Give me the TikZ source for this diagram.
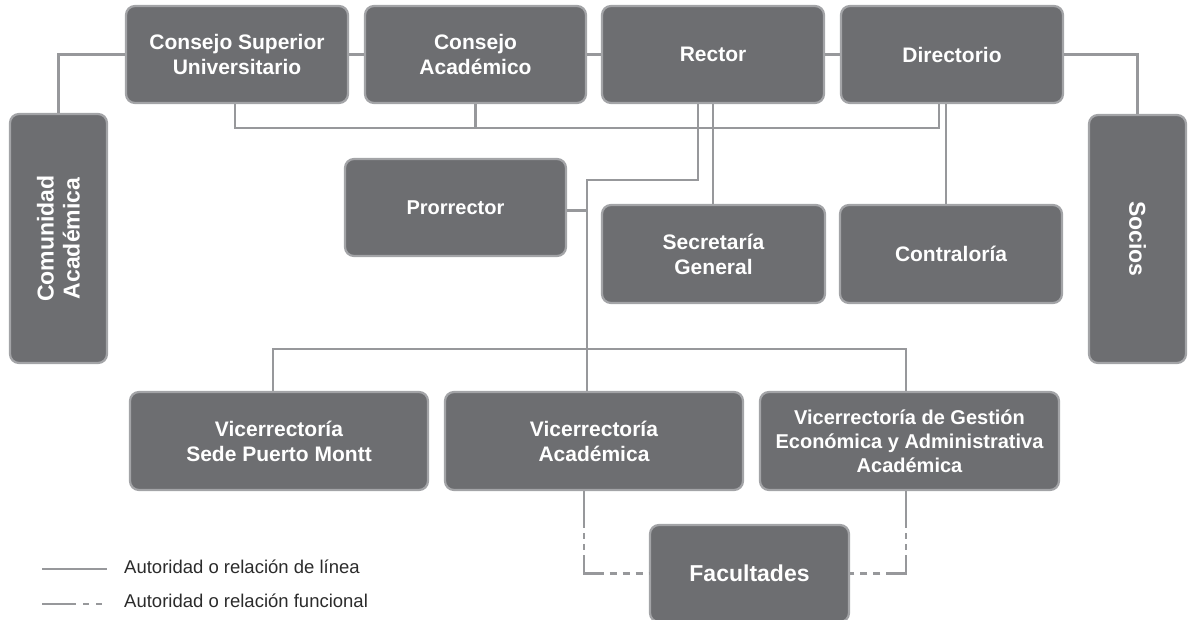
\documentclass[tikz,border=0pt]{standalone}
\usepackage{fontspec}
\setmainfont{Liberation Sans}
\begin{document}
\begin{tikzpicture}[x=1pt,y=-1pt,
  orgbox/.style={draw=boxedge,line width=2.2pt,fill=boxfill,rounded corners=9pt,
    inner sep=0pt,text=white,align=center,font=\bfseries\fontsize{21}{25}\selectfont},
  conn/.style={draw=linegray,line width=2.5pt},
  func/.style={conn,dash pattern=on 37pt off 5pt on 6pt off 5pt on 6pt off 5pt on 38pt off 6pt on 7pt off 6pt on 7pt off 6pt on 7pt off 6pt on 7pt off 6pt},
  legtext/.style={anchor=west,inner sep=0pt,text=legtxt,font=\fontsize{18.5}{21}\selectfont}]
\definecolor{boxfill}{HTML}{6D6E71}
\definecolor{boxedge}{HTML}{A3A4A7}
\definecolor{linegray}{HTML}{97989B}
\definecolor{legtxt}{HTML}{2B2B2B}
\useasboundingbox (0,0) rectangle (1188,620);
\coordinate (j1) at (587,180);
\coordinate (b2) at (587,349);
% nodes
\node[orgbox,minimum width=222pt,minimum height=97pt] (csu) at (237,54.5) {Consejo Superior\\Universitario};
\node[orgbox,minimum width=221pt,minimum height=97pt] (ca) at (475.5,54.5) {Consejo\\Académico};
\node[orgbox,minimum width=222pt,minimum height=97pt] (rector) at (713,54.5) {Rector};
\node[orgbox,minimum width=222pt,minimum height=97pt] (dir) at (952,54.5) {Directorio};
\node[orgbox,minimum width=97pt,minimum height=249pt] (com) at (58.5,238.5) {};
\node[rotate=90,text=white,align=center,font=\bfseries\fontsize{23}{26}\selectfont] (comtxt) at (com.center) {Comunidad\\Académica};
\node[orgbox,minimum width=97pt,minimum height=248pt] (soc) at (1137.5,239) {};
\node[rotate=-90,text=white,font=\bfseries\fontsize{23}{26}\selectfont] (soctxt) at (soc.center) {Socios};
\node[orgbox,minimum width=221pt,minimum height=97pt,font=\bfseries\fontsize{20}{24}\selectfont] (pro) at (455.5,207.5) {Prorrector};
\node[orgbox,minimum width=223pt,minimum height=98pt] (sec) at (713.5,254) {Secretaría\\General};
\node[orgbox,minimum width=222pt,minimum height=98pt] (con) at (951,254) {Contraloría};
\node[orgbox,minimum width=298pt,minimum height=98pt] (vspm) at (279,441) {Vicerrectoría\\Sede Puerto Montt};
\node[orgbox,minimum width=298pt,minimum height=98pt] (va) at (594,441) {Vicerrectoría\\Académica};
\node[orgbox,minimum width=299pt,minimum height=98pt,font=\bfseries\fontsize{20}{24}\selectfont] (vgea) at (909.5,441) {Vicerrectoría de Gestión\\Económica y Administrativa\\Académica};
\node[orgbox,minimum width=199pt,minimum height=97pt,font=\bfseries\fontsize{23}{26}\selectfont] (fac) at (749.5,573.5) {Facultades};
% connectors
\draw[conn] (com.north) |- (csu.west);
\draw[conn] (csu.east) -- (ca.west);
\draw[conn] (ca.east) -- (rector.west);
\draw[conn] (rector.east) -- (dir.west);
\draw[conn] (dir.east) -| (soc.north);
\draw[conn] ([xshift=-2pt]csu.south) |- ([xshift=-13pt]dir.south |- 0,128) -- ([xshift=-13pt]dir.south);
\draw[conn] (ca.south) -- (ca.south |- 0,128);
\draw[conn] ([xshift=-15pt]rector.south) |- (j1) -- (j1 |- va.north);
\draw[conn] ([yshift=-3pt]pro.east) -- ([yshift=-3pt]pro.east -| j1);
\draw[conn] (rector.south) -- (rector.south |- sec.north);
\draw[conn] ([xshift=-6pt]dir.south) -- ([xshift=-6pt]dir.south |- con.north);
\draw[conn] ([xshift=-6pt]vspm.north) |- (b2) -| ([xshift=-3.5pt]vgea.north);
\draw[func] ([xshift=-10pt]va.south) |- (fac.west);
\draw[func] ([xshift=-3.5pt]vgea.south) |- (fac.east);
% legend
\coordinate (la1) at (42,569);
\coordinate (la2) at (107,569);
\coordinate (lb1) at (42,604);
\coordinate (lb2) at (102,604);
\draw[conn] (la1) -- (la2);
\draw[conn,dash pattern=on 34pt off 7pt on 6pt off 7pt on 6pt off 20pt] (lb1) -- (lb2);
\node[legtext] (lt1) at (124,567) {Autoridad o relación de línea};
\node[legtext] (lt2) at (124,601) {Autoridad o relación funcional};
\end{tikzpicture}
\end{document}
